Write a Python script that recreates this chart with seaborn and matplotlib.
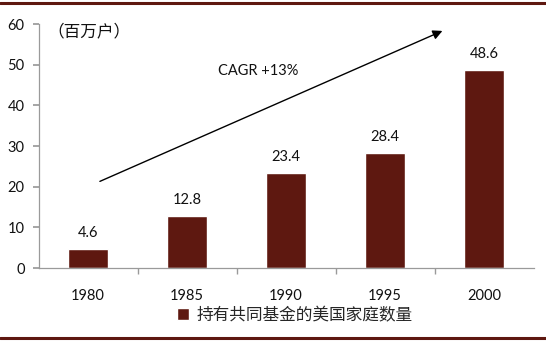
import matplotlib
matplotlib.use("Agg")
import matplotlib.pyplot as plt
import seaborn as sns
import pandas as pd

years = ["1980", "1985", "1990", "1995", "2000"]
households = [4.6, 12.8, 23.4, 28.4, 48.6]
y_ticks = [0, 10, 20, 30, 40, 50, 60]
series_name = "持有共同基金的美国家庭数量"
unit_label = "（百万户）"
cagr_label = "CAGR +13%"

sns.set_theme(style="white")
plt.rcParams["font.family"] = ["Lato", "Noto Sans CJK SC", "DejaVu Sans"]

bar_color = "#5E1810"
frame_color = "#5E1810"

df = pd.DataFrame({"year": years, "value": households})

fig = plt.figure(figsize=(5.46, 3.42), dpi=100)
ax = fig.add_axes([38.5 / 546, 1 - 268 / 342, 495 / 546, 244 / 342])

sns.barplot(data=df, x="year", y="value", color=bar_color, width=0.4,
            saturation=1, ax=ax, label=series_name)

for i, v in enumerate(households):
    ax.text(i, v + 2.2, f"{v:.1f}", ha="center", va="bottom", fontsize=10.5,
            color="#111111")

ax.set_ylim(0, 60)
ax.set_xlim(-0.5, len(years) - 0.5)
ax.set_yticks(y_ticks)
ax.set_xlabel("")
ax.set_ylabel("")

for s in ["top", "right"]:
    ax.spines[s].set_visible(False)
for s in ["left", "bottom"]:
    ax.spines[s].set_color("#9A9A9A")
    ax.spines[s].set_linewidth(0.9)

ax.tick_params(axis="y", which="both", left=True, length=4, color="#9A9A9A",
               labelsize=10.5, labelcolor="#111111", pad=6)
ax.tick_params(axis="x", which="major", bottom=False, labelsize=10.5,
               labelcolor="#111111", pad=9)
ax.set_xticks([i + 0.5 for i in range(len(years) - 1)], minor=True)
ax.tick_params(axis="x", which="minor", bottom=True, length=4, color="#9A9A9A")

ax.text(-0.41, 58.0, unit_label, fontsize=12, va="center", ha="left",
        family=["Noto Sans CJK SC", "DejaVu Sans"], color="#111111")

# growth arrow across the bars
ax.annotate("", xy=(3.58, 58.3), xytext=(0.12, 21.3),
            arrowprops=dict(arrowstyle="-|>", color="black", lw=1.0,
                            mutation_scale=14, shrinkA=0, shrinkB=0))
ax.text(1.72, 48.5, cagr_label, fontsize=10.5, ha="center", va="center",
        color="#111111")

handles, labels = ax.get_legend_handles_labels()
leg = ax.legend(handles, labels, loc="center", bbox_to_anchor=(0.518, -0.195),
                frameon=False, handlelength=0.7, handleheight=0.7,
                handletextpad=0.5,
                prop={"family": ["Noto Sans CJK SC"], "size": 12})

# dark rules framing the chart
fig.add_artist(plt.Line2D([0, 1], [1 - 3 / 342, 1 - 3 / 342], color=frame_color, lw=2.2))
fig.add_artist(plt.Line2D([0, 1], [4 / 342, 4 / 342], color=frame_color, lw=2.2))

fig.savefig("out.png", dpi=100)
